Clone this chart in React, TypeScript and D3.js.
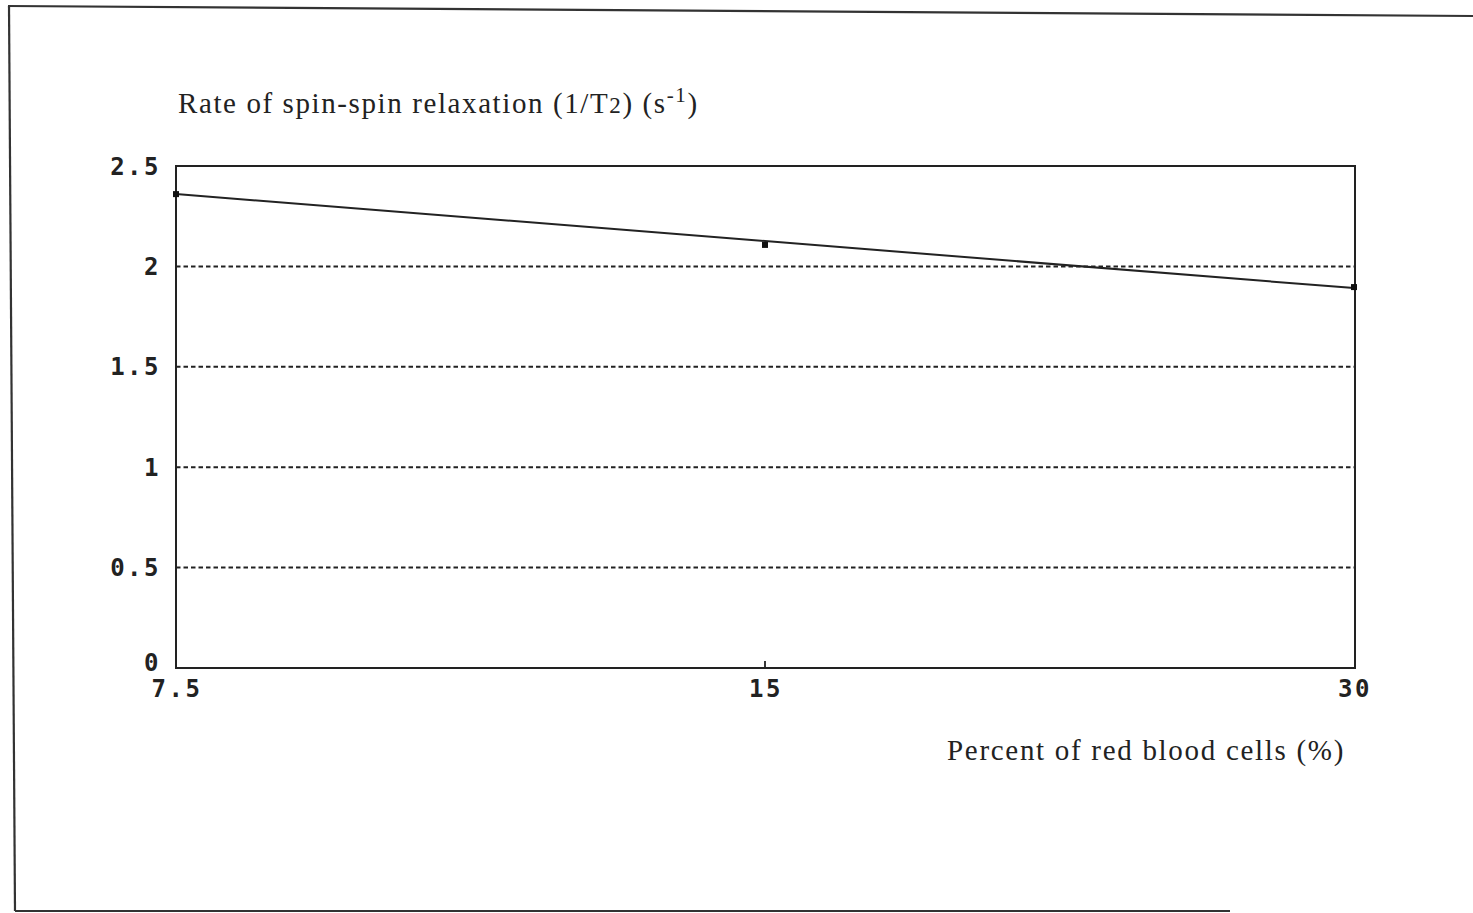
import { useRef, useEffect } from 'react'
import { select, scalePoint, scaleLinear, line } from 'd3'

// values
const percentCells = ['7.5', '15', '30']
const relaxRate = [2.36, 2.107, 1.897]
const fitLine = [2.36, 1.892] // regression line at first / last category
const yTicks = [0, 0.5, 1, 1.5, 2, 2.5]
const yTickLabels = ['0', '0.5', '1', '1.5', '2', '2.5']
const gridValues = [0.5, 1, 1.5, 2]

const yTitle = 'Rate of spin-spin relaxation (1/T'
const xTitle = 'Percent of red blood cells (%)'

const App = () => {
  const svgRef = useRef(null)

  useEffect(() => {
    const svg = select(svgRef.current)
    svg.selectAll('*').remove()

    const plot = { left: 176, right: 1355, top: 166, bottom: 668 }

    const xScale = scalePoint().domain(percentCells).range([plot.left, plot.right - 1])
    const yScale = scaleLinear().domain([0, 2.5]).range([plot.bottom, plot.top])

    // outer frame of the scanned page (slightly skewed)
    const frame = svg.append('g').attr('stroke', '#333').attr('stroke-width', 2.2).attr('fill', 'none')
    frame.append('line').attr('x1', 8).attr('y1', 6).attr('x2', 1473).attr('y2', 16)
    frame.append('line').attr('x1', 9).attr('y1', 6).attr('x2', 15).attr('y2', 911)
    frame.append('line').attr('x1', 15).attr('y1', 911).attr('x2', 1230).attr('y2', 911)

    // grid lines
    svg
      .append('g')
      .selectAll('line')
      .data(gridValues)
      .join('line')
      .attr('x1', plot.left)
      .attr('x2', plot.right)
      .attr('y1', (d) => yScale(d))
      .attr('y2', (d) => yScale(d))
      .attr('stroke', '#222')
      .attr('stroke-width', 2)
      .attr('stroke-dasharray', '4.5 3')

    // plot box
    svg
      .append('rect')
      .attr('x', plot.left)
      .attr('y', plot.top)
      .attr('width', plot.right - plot.left)
      .attr('height', plot.bottom - plot.top)
      .attr('fill', 'none')
      .attr('stroke', '#222')
      .attr('stroke-width', 2)

    // middle x tick
    svg
      .append('line')
      .attr('x1', xScale('15'))
      .attr('x2', xScale('15'))
      .attr('y1', plot.bottom - 7)
      .attr('y2', plot.bottom)
      .attr('stroke', '#222')
      .attr('stroke-width', 1.8)

    // y tick labels
    svg
      .append('g')
      .selectAll('text')
      .data(yTicks)
      .join('text')
      .attr('x', 161)
      .attr('y', (d) => yScale(d) + (d === 0 ? -6 : 0))
      .attr('dy', '0.36em')
      .attr('text-anchor', 'end')
      .attr('font-family', 'DejaVu Sans Mono')
      .attr('font-weight', 'bold')
      .attr('font-size', 24)
      .attr('letter-spacing', 2.5)
      .attr('fill', '#222')
      .text((d, i) => yTickLabels[i])

    // x tick labels
    svg
      .append('g')
      .selectAll('text')
      .data(percentCells)
      .join('text')
      .attr('x', (d) => xScale(d) + 1)
      .attr('y', 697)
      .attr('text-anchor', 'middle')
      .attr('font-family', 'DejaVu Sans Mono')
      .attr('font-weight', 'bold')
      .attr('font-size', 24)
      .attr('letter-spacing', 2.5)
      .attr('fill', '#222')
      .text((d) => d)

    // fitted line
    const lineGen = line()
      .x((d) => xScale(d[0]))
      .y((d) => yScale(d[1]))
    svg
      .append('path')
      .attr('d', lineGen([[percentCells[0], fitLine[0]], [percentCells[2], fitLine[1]]]))
      .attr('fill', 'none')
      .attr('stroke', '#222')
      .attr('stroke-width', 2)

    // data points
    svg
      .append('g')
      .selectAll('rect')
      .data(percentCells)
      .join('rect')
      .attr('x', (d) => xScale(d) - 3)
      .attr('y', (d, i) => yScale(relaxRate[i]) - 3)
      .attr('width', 6)
      .attr('height', 6)
      .attr('fill', '#111')

    // axis titles
    const yLabel = svg
      .append('text')
      .attr('x', 178)
      .attr('y', 113)
      .attr('font-family', 'Liberation Serif')
      .attr('font-size', 29)
      .attr('letter-spacing', 1.6)
      .attr('fill', '#222')
    yLabel.append('tspan').text(yTitle)
    yLabel.append('tspan').attr('font-size', 23).text('2')
    yLabel.append('tspan').text(') (s')
    yLabel.append('tspan').attr('font-size', 21).attr('dy', -11).text('-1')
    yLabel.append('tspan').attr('dy', 11).text(')')

    svg
      .append('text')
      .attr('x', 947)
      .attr('y', 760)
      .attr('font-family', 'Liberation Serif')
      .attr('font-size', 29)
      .attr('letter-spacing', 1.7)
      .attr('fill', '#222')
      .text(xTitle)
  }, [])

  return (
    <div style={{ position: 'absolute', left: 0, top: 0 }}>
      <svg width="1473" height="913" ref={svgRef} style={{ display: 'block', background: '#fff' }}></svg>
    </div>
  )
}

export default App
